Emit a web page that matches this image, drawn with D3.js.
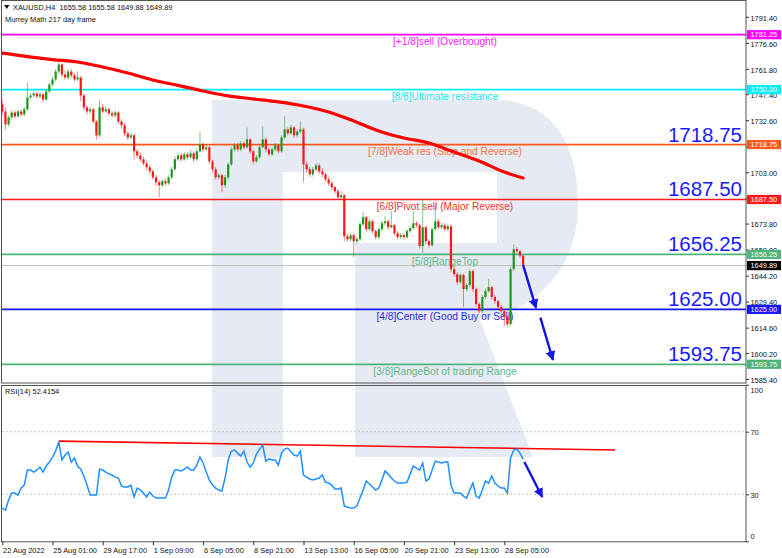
<!DOCTYPE html>
<html><head><meta charset="utf-8">
<script src="https://cdn.jsdelivr.net/npm/d3@7"></script>
<style>
body{margin:0;background:#fff;}
svg{display:block;font-family:"Liberation Sans",Arial,sans-serif;}
</style>
</head><body>
<svg id="c" width="782" height="558"></svg>
<script>
// ---------------- DATA ----------------
const firstOpen = 1741.6;
const closes = [1737.6,1730.2,1734.2,1737.0,1734.8,1737.6,1735.9,1738.8,1745.6,1746.7,
1747.8,1746.1,1747.3,1744.4,1749.0,1752.9,1755.8,1760.3,1764.3,1758.6,
1756.9,1760.3,1758.1,1755.8,1756.9,1746.7,1739.9,1737.6,1738.8,1731.9,
1724.0,1739.9,1737.6,1738.8,1736.5,1735.3,1737.0,1731.9,1729.7,1725.1,
1722.8,1724.0,1714.9,1712.6,1710.4,1708.1,1705.8,1703.5,1700.1,1697.3,
1695.6,1697.9,1696.7,1700.1,1704.7,1710.4,1712.6,1710.4,1713.2,1711.5,
1713.8,1710.4,1714.9,1718.9,1716.0,1717.2,1709.2,1704.7,1700.1,1701.3,
1695.6,1700.1,1707.5,1716.0,1718.3,1716.0,1719.4,1717.2,1721.7,1714.9,
1709.2,1711.5,1717.2,1721.7,1716.0,1713.2,1716.0,1718.3,1714.9,1722.8,
1727.4,1725.1,1728.5,1724.0,1726.2,1727.4,1707.5,1704.7,1701.8,1704.7,
1706.9,1703.5,1701.8,1699.0,1696.7,1694.5,1692.2,1688.8,1689.9,1666.6,
1664.9,1667.2,1663.8,1664.9,1673.4,1677.4,1670.6,1675.1,1669.5,1666.1,
1670.6,1674.0,1675.1,1671.7,1672.9,1668.3,1666.1,1667.2,1666.1,1669.5,
1671.2,1674.0,1672.9,1661.0,1671.7,1663.8,1661.5,1670.6,1675.1,1671.7,
1672.9,1670.6,1672.3,1647.9,1645.0,1640.5,1644.5,1636.5,1638.8,1646.7,
1636.5,1628.0,1624.0,1632.0,1635.4,1637.6,1632.0,1629.7,1626.3,1624.0,
1620.6,1616.6,1647.9,1659.2,1658.1,1655.58,1649.89];
const highs = [1744.4,1739.9,1735.3,1738.2,1738.0,1738.8,1738.5,1740.0,1754.1,1748.2,
1749.0,1748.6,1748.4,1748.0,1750.3,1754.0,1757.4,1761.6,1765.6,1765.0,
1761.0,1761.8,1761.5,1759.6,1760.4,1757.8,1747.6,1741.0,1740.2,1739.5,
1732.8,1744.4,1741.8,1740.6,1739.7,1737.8,1738.4,1737.8,1733.2,1730.8,
1726.4,1725.6,1724.8,1716.3,1714.2,1711.9,1709.3,1707.2,1704.7,1701.4,
1698.3,1699.0,1699.3,1701.2,1706.0,1712.1,1714.1,1714.0,1714.6,1714.5,
1715.4,1714.9,1716.4,1726.2,1719.9,1718.6,1718.0,1710.3,1706.1,1702.6,
1702.0,1701.4,1708.7,1717.4,1719.6,1719.5,1720.7,1720.5,1728.5,1722.6,
1715.8,1712.8,1718.4,1729.1,1722.9,1717.0,1717.3,1719.6,1719.2,1724.1,
1734.8,1728.6,1729.9,1729.3,1727.5,1731.9,1728.3,1708.9,1706.1,1706.0,
1708.2,1708.0,1705.2,1703.0,1700.2,1697.9,1695.4,1693.4,1692.5,1690.7,
1668.1,1668.5,1668.2,1666.3,1674.6,1680.2,1678.3,1676.5,1676.0,1670.6,
1671.9,1675.5,1678.0,1676.0,1680.8,1673.8,1669.5,1668.6,1668.4,1670.7,
1672.6,1680.8,1675.3,1673.8,1687.6,1672.6,1665.0,1671.8,1684.8,1676.3,
1674.2,1674.0,1673.6,1673.2,1649.3,1646.2,1645.8,1645.4,1640.0,1647.9,
1647.6,1637.4,1629.2,1633.2,1636.8,1642.2,1638.4,1633.1,1630.8,1627.5,
1625.3,1621.6,1649.2,1661.9,1660.5,1659.0,1655.58];
const lows = [1735.9,1727.4,1729.1,1733.0,1733.6,1733.9,1734.6,1734.8,1737.9,1744.3,
1745.6,1745.0,1744.8,1742.7,1743.6,1748.0,1751.8,1754.6,1758.9,1757.1,
1755.7,1755.6,1756.8,1754.5,1754.9,1743.3,1738.2,1735.9,1736.4,1730.5,
1721.7,1723.0,1736.4,1736.9,1735.2,1734.0,1734.1,1730.3,1727.8,1723.5,
1721.3,1721.9,1710.4,1711.0,1709.0,1706.8,1704.1,1702.0,1698.6,1695.2,
1688.8,1694.4,1695.3,1695.8,1699.2,1703.6,1709.3,1709.2,1709.6,1710.3,
1710.6,1708.8,1709.4,1714.0,1714.6,1714.9,1707.7,1703.0,1698.7,1698.8,
1691.6,1694.4,1699.0,1706.6,1714.7,1714.8,1715.0,1715.8,1716.4,1713.4,
1707.5,1708.1,1710.6,1716.5,1714.6,1711.9,1712.2,1715.1,1713.5,1714.0,
1721.9,1723.9,1724.2,1722.7,1722.8,1725.0,1697.3,1703.0,1700.4,1700.6,
1703.6,1702.1,1700.3,1697.5,1695.2,1693.1,1690.8,1687.4,1687.5,1663.8,
1663.5,1663.8,1654.7,1662.5,1663.9,1672.4,1669.3,1669.6,1668.0,1664.8,
1665.0,1669.6,1672.8,1670.4,1670.9,1667.0,1664.8,1665.0,1664.6,1665.1,
1668.6,1670.3,1671.5,1659.6,1657.0,1662.3,1660.0,1660.6,1669.8,1670.5,
1670.8,1669.4,1669.6,1646.0,1643.4,1638.9,1639.4,1626.3,1635.2,1637.7,
1635.0,1626.6,1622.6,1623.0,1630.9,1634.4,1630.5,1628.2,1624.8,1622.5,
1615.5,1614.9,1615.6,1646.7,1656.8,1654.3,1649.88];

// 217-period moving average, read at every 8th bar
const maIdx  = [0,8,16,24,32,40,48,56,64,72,80,88,96,104,112,120,128,136,144,152,160,166];
const maVals = [1770.8,1768.8,1767.1,1765.7,1762.9,1759.5,1755.5,1752.4,1749.2,1746.4,1744.7,
1743.0,1740.7,1737.3,1732.2,1726.5,1722.5,1719.6,1714.5,1709.4,1703.1,1699.7];

const rsiVals = [21.2,19.9,26.4,30.8,30.8,29.5,34.0,35.9,45.5,45.5,
44.2,45.5,47.4,44.2,48.1,50.6,53.8,57.6,63.4,51.9,
55.1,57.0,50.6,53.2,48.1,46.1,41.7,35.9,29.5,29.5,
29.5,46.1,45.5,44.2,42.9,42.3,41.0,40.4,35.3,34.7,
34.7,35.9,28.3,34.0,32.7,30.8,28.3,31.5,28.9,27.6,
27.6,27.6,27.6,32.7,41.0,45.5,45.5,44.9,46.1,47.4,
45.5,45.5,48.7,53.8,50.0,44.2,39.1,35.9,34.0,32.7,
32.1,40.4,51.9,57.6,58.3,56.3,54.4,57.6,50.6,47.4,
50.0,55.7,58.9,61.5,51.2,52.6,51.9,51.9,48.7,56.3,
58.9,59.5,57.0,55.1,54.4,57.6,42.3,41.0,39.8,39.1,
39.8,40.4,42.3,37.8,37.2,35.9,33.4,33.4,34.0,22.5,
21.9,21.2,21.2,22.5,27.6,32.7,38.5,36.6,34.7,32.7,
34.0,39.1,44.9,42.9,40.4,38.5,37.2,37.2,37.2,37.8,
42.9,48.1,46.8,45.5,50.0,38.5,39.8,45.5,51.2,50.6,
50.0,50.6,50.6,35.9,30.8,30.8,30.8,28.9,27.6,32.7,
37.2,28.9,27.6,32.7,38.5,37.2,41.7,37.2,35.3,34.0,
34.0,30.8,53.2,58.3,58.9,56.3,52.4154];
const rsiTrend = [{i:18, v:64.0}, {i:195.3, v:58.3}];

const timeTickIdx = [0,16,32,48,64,80,96,112,128,144,160];
const timeLabels = ["22 Aug 2022","25 Aug 01:00","29 Aug 17:00","1 Sep 09:00","6 Sep 05:00",
"8 Sep 21:00","13 Sep 13:00","16 Sep 05:00","20 Sep 21:00","23 Sep 13:00","28 Sep 05:00"];
const priceTicks = [1791.40,1776.60,1761.80,1747.40,1732.60,1717.80,1703.00,1688.20,
1673.80,1659.00,1644.20,1629.40,1614.60,1600.20,1585.40];
const rsiTicks = [100,70,30,0];

const murreyLevels = [1781.25,1750.00,1718.75,1687.50,1656.25,1625.00,1593.75];
const murreyNames  = ["[+1/8]sell (Overbought)","[8/8]Ultimate resistance",
"[7/8]Weak res (Stop and Reverse)","[6/8]Pivot sell (Major Reverse)","[5/8]RangeTop",
"[4/8]Center (Good Buy or Sell)","[3/8]RangeBot of trading Range"];
const murreyColors = ["#ff00ff","#00eeff","#ff5a1e","#ff1a1a","#4cb57a","#1515ff","#4cb57a"];
const murreyTextColors = ["#ff20ff","#20e0f0","#f5703a","#f03535","#62b98a","#2a2ae6","#62b98a"];
const bigLevels = [1718.75,1687.50,1656.25,1625.00,1593.75];

const lastPrice = 1649.89;
const header = "XAUUSD,H4  1655.58 1655.58 1649.88 1649.89";
const subHeader = "Murrey Math 217 day frame";
const rsiTitle = "RSI(14) 52.4154";

const priceArrows = [
  [{i:166.0,p:1650.2},{i:170.1,p:1625.8}],
  [{i:171.5,p:1620.3},{i:175.5,p:1596.2}]
];
const rsiArrow = [{i:166.4,v:50.6},{i:172.1,v:28.3}];

// ---------------- LAYOUT ----------------
const svg = d3.select("#c");
const PL = 2, PR = 746, MT = 2, MB = 383, RT = 385, RB = 541.3;
const x = d3.scaleLinear().domain([0,160]).range([2.3,504.3]);
const y = d3.scaleLinear().domain([1583.1,1799.85]).range([MB,MT]);
const yr = d3.scaleLinear().domain([0,100]).range([RB,384.7]);
const FS = 7.4;

svg.append("rect").attr("width",782).attr("height",558).attr("fill","#fff");

const defs = svg.append("defs");
defs.append("clipPath").attr("id","cm").append("rect")
  .attr("x",PL).attr("y",MT).attr("width",PR-PL).attr("height",MB-MT);
defs.append("clipPath").attr("id","cr").append("rect")
  .attr("x",PL).attr("y",RT).attr("width",PR-PL).attr("height",RB-RT);
defs.append("clipPath").attr("id","call").append("rect")
  .attr("x",PL).attr("y",MT).attr("width",PR-PL).attr("height",RB-MT);
defs.append("marker").attr("id","ah").attr("viewBox","0 0 10 10")
  .attr("refX",9).attr("refY",5).attr("markerWidth",4).attr("markerHeight",4)
  .attr("orient","auto").attr("markerUnits","strokeWidth")
  .append("path").attr("d","M0,0 L10,5 L0,10 Z").attr("fill","#1414e6");

// watermark logo (decoration)
svg.append("path").attr("clip-path","url(#call)")
  .attr("d","M212,100 H495 C548,100 578,138 578,205 C578,265 540,310 480,320 L533,457 H355 V243 H497 V172 H283 V457 H212 Z")
  .attr("fill","#e6eaf2");

// ---------- main panel ----------
const gm = svg.append("g").attr("clip-path","url(#cm)");

murreyLevels.forEach((lv,k)=>{
  gm.append("line").attr("x1",PL).attr("x2",PR).attr("y1",y(lv)).attr("y2",y(lv))
    .attr("stroke",murreyColors[k]).attr("stroke-width",1.7);
});
gm.append("line").attr("x1",PL).attr("x2",PR).attr("y1",y(lastPrice)).attr("y2",y(lastPrice))
  .attr("stroke","#bdbdbd").attr("stroke-width",1);

murreyLevels.forEach((lv,k)=>{
  gm.append("text").attr("x",445).attr("y",y(lv)+10.6).attr("text-anchor","middle")
    .attr("font-size",10.2).attr("fill",murreyTextColors[k]).text(murreyNames[k]);
});

const maLine = d3.line().x(d=>x(d[0])).y(d=>y(d[1])).curve(d3.curveMonotoneX);
gm.append("path").datum(maIdx.map((d,k)=>[d,maVals[k]]))
  .attr("d",maLine).attr("fill","none").attr("stroke","#ff0000").attr("stroke-width",3.2)
  .attr("stroke-linecap","round");

const opens = closes.map((c,i)=> i===0 ? firstOpen : closes[i-1]);
const bars = closes.map((c,i)=>({i, o:opens[i], h:highs[i], l:lows[i], c}));
const UP="#1c981c", DN="#ff1616";
const cg = gm.append("g");
cg.selectAll("line.w").data(bars).join("line")
  .attr("x1",d=>x(d.i)).attr("x2",d=>x(d.i)).attr("y1",d=>y(d.h)).attr("y2",d=>y(d.l))
  .attr("stroke",d=>d.c>=d.o?UP:DN).attr("stroke-opacity",0.55).attr("stroke-width",1);
cg.selectAll("rect.b").data(bars).join("rect")
  .attr("x",d=>x(d.i)-1.1).attr("width",2.2)
  .attr("y",d=>y(Math.max(d.o,d.c)))
  .attr("height",d=>Math.max(1,Math.abs(y(d.o)-y(d.c))))
  .attr("fill",d=>d.c>=d.o?UP:DN);

bigLevels.forEach(lv=>{
  gm.append("text").attr("x",742).attr("y",y(lv)-3).attr("text-anchor","end")
    .attr("font-size",20.5).attr("fill","#1a1aff").text(lv.toFixed(2));
});

priceArrows.forEach(a=>{
  gm.append("line").attr("x1",x(a[0].i)).attr("y1",y(a[0].p)).attr("x2",x(a[1].i)).attr("y2",y(a[1].p))
    .attr("stroke","#1414e6").attr("stroke-width",2.4).attr("marker-end","url(#ah)");
});

svg.append("path").attr("d","M4,5 L9.5,5 L6.75,9 Z").attr("fill","#111");
svg.append("text").attr("x",13).attr("y",10).attr("font-size",FS).attr("fill","#111")
  .style("white-space","pre").text(header);
svg.append("text").attr("x",5).attr("y",21.7).attr("font-size",FS).attr("fill","#111").text(subHeader);

// ---------- RSI panel ----------
const gr = svg.append("g").attr("clip-path","url(#cr)");
[70,30].forEach(v=>{
  gr.append("line").attr("x1",PL).attr("x2",PR).attr("y1",yr(v)).attr("y2",yr(v))
    .attr("stroke","#c4c4c4").attr("stroke-dasharray","2,2").attr("stroke-width",1);
});
gr.append("line").attr("x1",x(rsiTrend[0].i)).attr("y1",yr(rsiTrend[0].v))
  .attr("x2",x(rsiTrend[1].i)).attr("y2",yr(rsiTrend[1].v))
  .attr("stroke","#ff0000").attr("stroke-width",1.6);
gr.append("path").datum(rsiVals)
  .attr("d",d3.line().x((d,i)=>x(i)).y(d=>yr(d)))
  .attr("fill","none").attr("stroke","#1e90ff").attr("stroke-width",1.5);
gr.append("line").attr("x1",x(rsiArrow[0].i)).attr("y1",yr(rsiArrow[0].v))
  .attr("x2",x(rsiArrow[1].i)).attr("y2",yr(rsiArrow[1].v))
  .attr("stroke","#1414e6").attr("stroke-width",2.4).attr("marker-end","url(#ah)");
svg.append("text").attr("x",5).attr("y",393.5).attr("font-size",FS).attr("fill","#111").text(rsiTitle);

// ---------- frames ----------
svg.append("rect").attr("x",1.5).attr("y",0.5).attr("width",PR-1.5).attr("height",MB-0.5)
  .attr("fill","none").attr("stroke","#555").attr("stroke-width",1);
svg.append("rect").attr("x",1.5).attr("y",RT+0.5).attr("width",PR-1.5).attr("height",RB-RT)
  .attr("fill","none").attr("stroke","#555").attr("stroke-width",1);

// ---------- axes ----------
const boxes = murreyLevels.map((lv,k)=>({v:lv, col:murreyColors[k]}));
boxes.push({v:lastPrice, col:"#000"});

const pax = svg.append("g").attr("transform",`translate(${PR},0)`)
  .call(d3.axisRight(y).tickValues(priceTicks).tickFormat(d3.format(".2f")).tickSize(3).tickSizeOuter(0));
pax.select(".domain").remove();
pax.selectAll("line").attr("stroke","#333");
pax.selectAll("text").attr("x",4.5).attr("dy","0.45em").attr("font-size",FS)
  .attr("font-family","Liberation Sans, Arial, sans-serif").attr("fill","#111")
  // labels fully covered by a level box are not visible in the chart
  .style("display",d=> boxes.some(b=>Math.abs(y(b.v)-y(d))<2.5) ? "none" : null);

boxes.forEach(b=>{
  const yy = y(b.v);
  svg.append("rect").attr("x",747).attr("y",yy-4.6).attr("width",34).attr("height",9.2).attr("fill",b.col);
  svg.append("text").attr("x",750.5).attr("y",yy+2.7).attr("font-size",FS).attr("fill","#fff").text(b.v.toFixed(2));
});

const rax = svg.append("g").attr("transform",`translate(${PR},0)`)
  .call(d3.axisRight(yr).tickValues(rsiTicks).tickFormat(d3.format("d")).tickSize(3).tickSizeOuter(0));
rax.select(".domain").remove();
rax.selectAll("line").attr("stroke","#333");
rax.selectAll("text").attr("x",4.5).attr("dy",d=> d===100 ? "1.05em" : (d===0 ? "-0.4em" : "0.4em"))
  .attr("font-size",FS).attr("font-family","Liberation Sans, Arial, sans-serif").attr("fill","#111");

const xax = svg.append("g").attr("transform",`translate(0,${RB})`)
  .call(d3.axisBottom(x).tickValues(timeTickIdx).tickFormat((d,k)=>timeLabels[k]).tickSize(4).tickSizeOuter(0));
xax.select(".domain").remove();
xax.selectAll("line").attr("stroke","#333");
xax.selectAll("text").attr("text-anchor","start").attr("x",0.3).attr("y",7).attr("dy","0.7em")
  .attr("font-size",FS).attr("font-family","Liberation Sans, Arial, sans-serif").attr("fill","#111");
</script>
</body></html>
